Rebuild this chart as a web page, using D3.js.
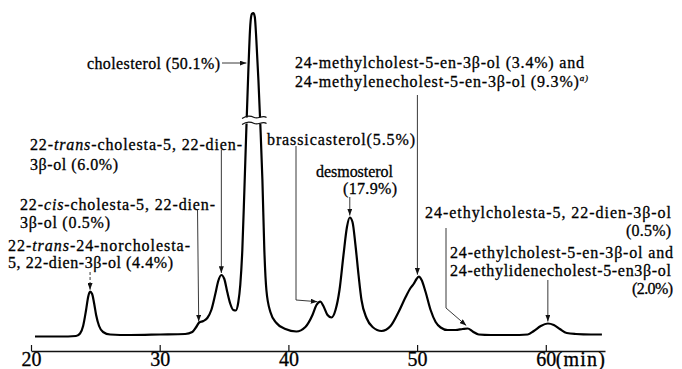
<!DOCTYPE html>
<html>
<head>
<meta charset="utf-8">
<script src="https://cdn.jsdelivr.net/npm/d3@7"></script>
<style>
  body { margin: 0; background: #fff; }
  svg { display: block; }
  .lbl { font-family: "Liberation Serif", "DejaVu Serif", serif; font-size: 16px; fill: #000; stroke: #000; stroke-width: 0.3; }
  .x-axis text { font-family: "Liberation Serif", serif; font-size: 20px; fill: #000; stroke: #000; stroke-width: 0.3; }
  .lead { fill: none; stroke: #222; stroke-width: 0.9; }
</style>
</head>
<body>
<div id="chart"></div>
<script>
// retention time (min)
const times = [20.31, 22.26, 23.50, 23.81, 24.05, 24.28, 24.44, 24.59, 24.75, 24.90, 25.06, 25.29, 25.60, 26.15,
  27.70, 30.04, 31.98, 32.53, 32.84, 33.07, 33.39, 33.70, 34.01, 34.32, 34.55, 34.79, 35.02, 35.25, 35.49,
  35.72, 35.91, 36.11, 36.26, 36.42, 36.58, 36.73, 36.89, 37.04, 37.16, 37.28, 37.39, 37.51, 37.67, 37.82,
  37.98, 38.13, 38.29, 38.60, 39.07, 39.77, 40.62, 41.32, 41.87, 42.18, 42.49, 42.72, 43.04, 43.35, 43.66,
  43.97, 44.28, 44.55, 44.77, 44.98, 45.21, 45.45, 45.68, 46.07, 46.54, 47.24, 47.94, 48.56, 49.11, 49.49,
  49.73, 49.96, 50.14, 50.35, 50.66, 51.05, 51.44, 51.83, 52.37, 52.99, 53.54, 53.93, 54.32, 54.79, 55.72,
  57.28, 58.60, 59.07, 59.61, 60.16, 60.62, 61.09, 61.63, 62.33, 63.50, 64.36];
// detector response (arbitrary units)
const signal = [0, 0, 0.5, 3, 10.5, 26.5, 39.5, 44.8, 42.5, 33.5, 21.5, 10.5, 4.5, 2,
  1.5, 2, 2.5, 4.5, 9.5, 14, 15.5, 18.5, 26.5, 42.5, 55.5, 61.5, 57.5, 44.5, 32.5,
  26.5, 26, 34.5, 51.5, 86.5, 146.5, 206.5, 266.5, 311.5, 322.5, 323.5, 319.5, 296.5, 256.5, 211.5,
  156.5, 86.5, 46.5, 24.5, 13.5, 7.5, 5, 9.5, 21.5, 31.5, 34.8, 30.5, 21.5, 19, 26.5,
  46.5, 81.5, 109.5, 119, 114.5, 91.5, 61.5, 36.5, 18.5, 9.5, 5.5, 10.5, 24.5, 39.5, 48.5,
  52.5, 57.5, 59.8, 56.5, 44.5, 26.5, 14.5, 9, 6.5, 6.5, 7.5, 8, 5, 2, 1.5,
  1.5, 2, 5.5, 10.5, 13, 11.5, 7.5, 3.5, 2.5, 2, 2];

const tickValues = [20, 30, 40, 50, 60];
const axisUnit = "(min)";

// peak annotations (*...* = italic, ^...^ = superscript)
const labelText = [
  ["cholesterol (50.1%)"],
  ["24-methylcholest-5-en-3β-ol (3.4%) and", "24-methylenecholest-5-en-3β-ol (9.3%)^a)^"],
  ["22-*trans*-cholesta-5, 22-dien-", "3β-ol (6.0%)"],
  ["brassicasterol(5.5%)"],
  ["desmosterol", "(17.9%)"],
  ["22-*cis*-cholesta-5, 22-dien-", "3β-ol (0.5%)"],
  ["22-*trans*-24-norcholesta-", "5, 22-dien-3β-ol (4.4%)"],
  ["24-ethylcholesta-5, 22-dien-3β-ol", "(0.5%)"],
  ["24-ethylcholest-5-en-3β-ol and", "24-ethylidenecholest-5-en3β-ol", "(2.0%)"]
];
const peakTimes = [37.2, 50.14, 34.79, 42.49, 44.77, 33.07, 24.59, 53.9, 60.16];

const width = 682, height = 369;
const axisY = 351;

const svg = d3.select('#chart').append('svg')
  .attr('width', width)
  .attr('height', height);

const x = d3.scaleLinear().domain([20, 64.6]).range([31, 605]);
const y = d3.scaleLinear().domain([0, 330]).range([336.5, 6.5]);

const data = times.map((t, i) => ({ t: t, v: signal[i] }));
const sigAt = t => data.reduce((a, b) => Math.abs(b.t - t) < Math.abs(a.t - t) ? b : a).v;

// arrow marker
svg.append('defs').append('marker')
  .attr('id', 'arr')
  .attr('markerUnits', 'userSpaceOnUse')
  .attr('viewBox', '0 0 8 6')
  .attr('markerWidth', 7).attr('markerHeight', 5)
  .attr('refX', 8).attr('refY', 3)
  .attr('orient', 'auto')
  .append('path').attr('d', 'M0,0L8,3L0,6Z').attr('fill', '#111');

// axis
const xAxis = d3.axisBottom(x)
  .tickValues(tickValues)
  .tickSize(-6)
  .tickSizeOuter(0)
  .tickPadding(1)
  .tickFormat(d3.format('d'));

const gx = svg.append('g')
  .attr('class', 'x-axis')
  .attr('transform', `translate(0,${axisY})`)
  .call(xAxis);
gx.select('.domain').attr('stroke', '#111').attr('stroke-width', 1.6);
gx.selectAll('.tick line').attr('stroke', '#111').attr('stroke-width', 1.2);
gx.append('text')
  .attr('x', x(60) + 10)
  .attr('y', 1)
  .attr('dy', '0.71em')
  .attr('text-anchor', 'start')
  .attr('textLength', 49)
  .attr('lengthAdjust', 'spacing')
  .text(axisUnit);

// chromatogram trace
const line = d3.line()
  .x(d => x(d.t))
  .y(d => y(d.v))
  .curve(d3.curveMonotoneX);

svg.append('path')
  .datum(data)
  .attr('d', line)
  .attr('fill', 'none')
  .attr('stroke', '#000')
  .attr('stroke-width', 2.2)
  .attr('stroke-linejoin', 'round');

// scale break on the cholesterol peak
const yb = y(216);
svg.append('rect')
  .attr('x', x(36.4)).attr('y', yb - 3)
  .attr('width', x(38.3) - x(36.4)).attr('height', 6)
  .attr('fill', '#fff');
[-3, 3].forEach(off => {
  const x0 = x(36.4), x1 = x(38.3), mid = (x0 + x1) / 2, yy = yb + off;
  svg.append('path')
    .attr('d', `M${x0},${yy + 1}C${x0 + 4},${yy - 2} ${mid - 4},${yy - 2} ${mid},${yy}C${mid + 4},${yy + 2} ${x1 - 4},${yy - 3} ${x1},${yy}`)
    .attr('fill', 'none').attr('stroke', '#111').attr('stroke-width', 1.2);
});

// label layout: [x, y centre, width] per line
const layout = [
  [[87, 63, 133]],
  [[295, 62, 289], [295, 81, 293]],
  [[30, 144, 212], [30, 164, 88]],
  [[267, 139, 148]],
  [[316, 171, 77], [343, 188, 54]],
  [[20, 204, 195], [20, 222, 90]],
  [[8, 245, 182], [8, 262, 165]],
  [[425, 212, 246], [626, 230, 45]],
  [[450, 252, 223], [450, 270, 221], [632, 288, 41]]
];

labelText.forEach((lines, i) => {
  lines.forEach((str, j) => {
    const [lx, ly, lw] = layout[i][j];
    const t = svg.append('text')
      .attr('class', 'lbl')
      .attr('x', lx).attr('y', ly).attr('dy', '0.35em')
      .attr('textLength', lw)
      .attr('lengthAdjust', 'spacing');
    str.split(/(\*[^*]+\*|\^[^^]+\^)/).filter(s => s).forEach(seg => {
      if (seg[0] === '*') {
        t.append('tspan').attr('font-style', 'italic').text(seg.slice(1, -1));
      } else if (seg[0] === '^') {
        t.append('tspan').attr('font-size', 9).attr('font-style', 'italic')
          .attr('dy', -6).text(seg.slice(1, -1));
      } else {
        t.append('tspan').text(seg);
      }
    });
  });
});

// leader lines to peaks
const px = i => x(peakTimes[i]);
const py = i => y(sigAt(peakTimes[i]));
const leaders = [
  { pts: [[222, 63], [px(0) - 6, 63]] },
  { pts: [[px(1) - 1.5, 95], [px(1) - 1.5, py(1) - 2]] },
  { pts: [[px(2), 150], [px(2), py(2) - 2]] },
  { pts: [[296, 146], [296, 300], [px(3) - 3, py(3)]] },
  { pts: [[px(4), 197], [px(4), py(4) - 2]] },
  { pts: [[197.5, 209], [px(5) - 0.5, py(5) - 1]] },
  { pts: [[px(6), 272], [px(6), py(6) - 2]], dash: '3,2' },
  { pts: [[446, 228], [446, 308], [px(7) - 1, py(7) - 3]] },
  { pts: [[px(8), 280], [px(8), py(8) - 2]] }
];
leaders.forEach(l => {
  svg.append('path')
    .attr('class', 'lead')
    .attr('d', d3.line()(l.pts))
    .attr('stroke-dasharray', l.dash || null)
    .attr('marker-end', 'url(#arr)');
});
</script>
</body>
</html>
